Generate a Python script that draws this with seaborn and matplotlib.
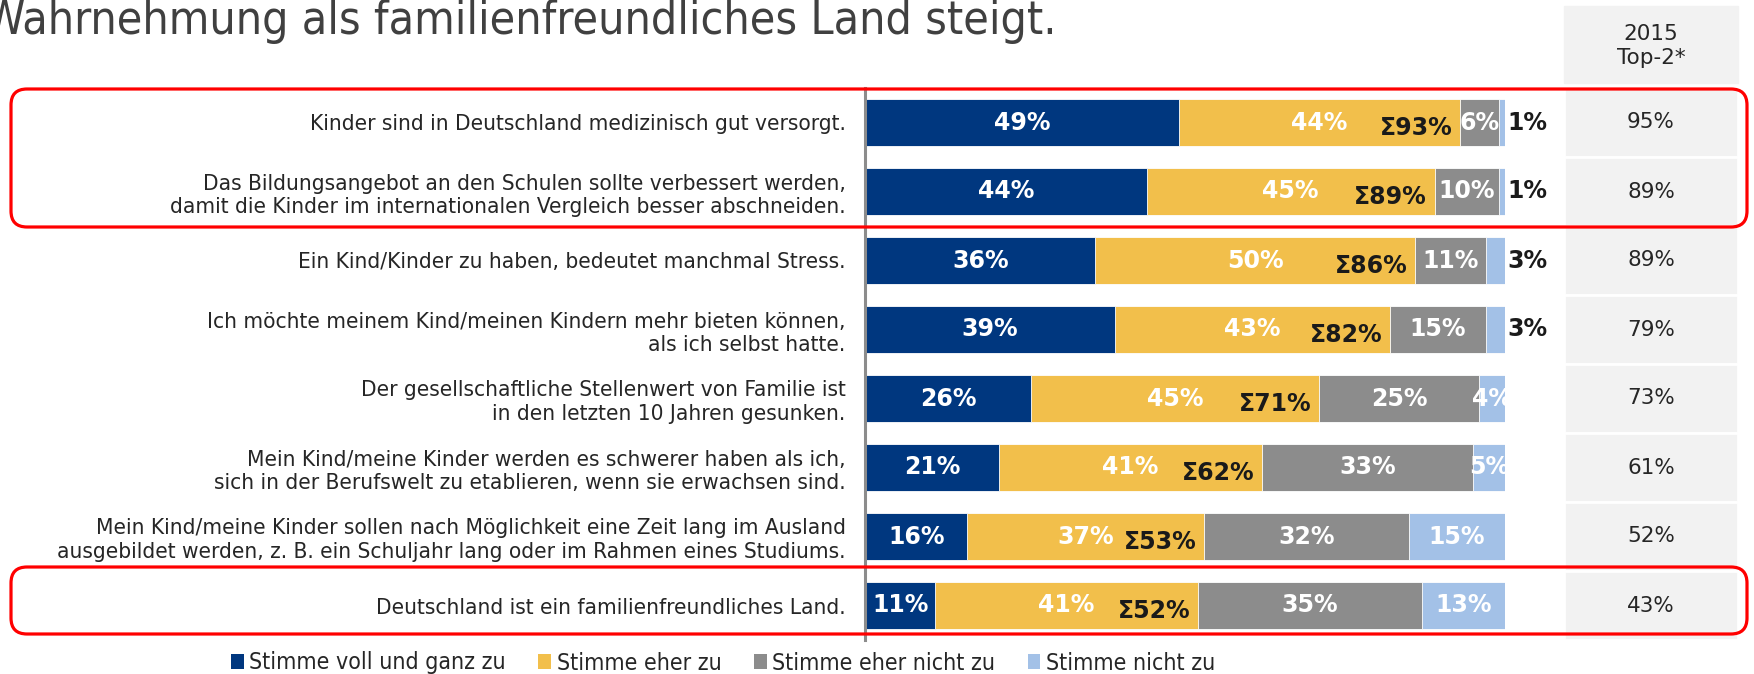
import numpy as np
import pandas as pd
import seaborn as sns

from matplotlib import pyplot as plt
from matplotlib import font_manager
from matplotlib.patches import Patch, Rectangle, FancyBboxPatch
from matplotlib.transforms import IdentityTransform


statements = [
    'Kinder sind in Deutschland medizinisch gut versorgt.',
    'Das Bildungsangebot an den Schulen sollte verbessert werden,\n'
    'damit die Kinder im internationalen Vergleich besser abschneiden.',
    'Ein Kind/Kinder zu haben, bedeutet manchmal Stress.',
    'Ich möchte meinem Kind/meinen Kindern mehr bieten können,\nals ich selbst hatte.',
    'Der gesellschaftliche Stellenwert von Familie ist\nin den letzten 10 Jahren gesunken.',
    'Mein Kind/meine Kinder werden es schwerer haben als ich,\n'
    'sich in der Berufswelt zu etablieren, wenn sie erwachsen sind.',
    'Mein Kind/meine Kinder sollen nach Möglichkeit eine Zeit lang im Ausland\n'
    'ausgebildet werden, z. B. ein Schuljahr lang oder im Rahmen eines Studiums.',
    'Deutschland ist ein familienfreundliches Land.',
]
voll = [49, 44, 36, 39, 26, 21, 16, 11]
eher = [44, 45, 50, 43, 45, 41, 37, 41]
eher_nicht = [6, 10, 11, 15, 25, 33, 32, 35]
nicht = [1, 1, 3, 3, 4, 5, 15, 13]
top2_2015 = [95, 89, 89, 79, 73, 61, 52, 43]

series_names = ['Stimme voll und ganz zu', 'Stimme eher zu', 'Stimme eher nicht zu', 'Stimme nicht zu']
colors = ['#00377F', '#F2BF4B', '#8C8C8C', '#A3C1E7']

title = 'Wahrnehmung als familienfreundliches Land steigt.'
header = '2015\nTop-2*'

W, H = 1754, 674


def narrow_font():
    fonts = font_manager.fontManager.ttflist
    if any(f.name == 'DejaVu Sans' and 'condensed' in f.stretch for f in fonts):
        return dict(family='DejaVu Sans', stretch='condensed')
    if any(f.name == 'Liberation Sans Narrow' for f in fonts):
        return dict(family='Liberation Sans Narrow')
    return dict(family='DejaVu Sans')


sns.set_style('white')
plt.rcParams['font.family'] = ['DejaVu Sans']
NARROW = narrow_font()

df = pd.DataFrame({'statement': statements, 'voll': voll, 'eher': eher,
                   'eher_nicht': eher_nicht, 'nicht': nicht})
parts = df[['voll', 'eher', 'eher_nicht', 'nicht']].to_numpy().T
cum = np.cumsum(parts, axis=0)

fig = plt.figure(figsize=(W / 100, H / 100), dpi=100)
ax = fig.add_axes([865 / W, 1 - 640 / H, 640 / W, 552 / H])

# stacked bars: draw cumulative totals from the back to the front
for k in range(3, -1, -1):
    sns.barplot(x=cum[k], y=df['statement'], orient='h', color=colors[k], saturation=1,
                width=0.67, edgecolor='white', linewidth=0.6, errorbar=None, ax=ax)

ax.set_xlim(0, 100)
ax.set_ylim(7.5, -0.5)
ax.set_xlabel('')
ax.set_ylabel('')
ax.set_xticks([])
for side in ['top', 'right', 'bottom']:
    ax.spines[side].set_visible(False)
ax.spines['left'].set_color('#8C8C8C')
ax.spines['left'].set_linewidth(2.2)
ax.set_yticks(range(len(statements)))
ax.set_yticklabels(statements, fontsize=16.2, color='#262626', **NARROW)
ax.set_yticks(np.arange(-0.5, len(statements), 1), minor=True)
ax.tick_params(axis='y', which='major', length=0, pad=14)
ax.tick_params(axis='y', which='minor', length=5, width=1.8, color='#8C8C8C', direction='out')

for i in range(len(statements)):
    start = 0
    for k in range(4):
        v = parts[k, i]
        if k == 3 and v <= 3:
            ax.text(100.3, i, f'{v}%', ha='left', va='center', fontsize=17,
                    fontweight='bold', color='#1A1A1A', clip_on=False)
        else:
            ax.text(start + v / 2, i, f'{v}%', ha='center', va='center', fontsize=17,
                    fontweight='bold', color='white', clip_on=True)
        start += v
    ax.text(cum[1, i] - 1.2, i + 0.08, f'Σ{cum[1, i]}%', ha='right', va='center',
            fontsize=17, fontweight='bold', color='#1A1A1A')

# 2015 column
ax2 = fig.add_axes([1564 / W, 1 - 640 / H, 174 / W, 552 / H])
ax2.barh(range(len(top2_2015)), [1] * len(top2_2015), height=1, left=0,
         color='#F2F2F2', edgecolor='white', linewidth=2)
ax2.set_xlim(0, 1)
ax2.set_ylim(7.5, -0.5)
ax2.axis('off')
for i, v in enumerate(top2_2015):
    ax2.text(0.5, i, f'{v}%', ha='center', va='center', fontsize=15.5, color='#262626')

fig.add_artist(Rectangle((1564, H - 83), 174, 77, color='#F2F2F2',
                         transform=IdentityTransform()))
fig.text(1651 / W, 1 - 46 / H, header, ha='center', va='center', fontsize=15.5,
         color='#262626', linespacing=1.3)

# red highlight frames
for top, bottom in [(89, 227), (567, 634)]:
    fig.add_artist(FancyBboxPatch((11, H - bottom), 1736, bottom - top,
                                  boxstyle='round,pad=0,rounding_size=16',
                                  fill=False, edgecolor='#FF0000', linewidth=2.3,
                                  transform=IdentityTransform(), zorder=10))

handles = [Patch(facecolor=c, edgecolor='none') for c in colors]
fig.legend(handles, series_names, loc='center left', bbox_to_anchor=(231 / W, 1 - 663 / H),
           ncol=4, frameon=False, handlelength=0.55, handleheight=0.6, handletextpad=0.25,
           columnspacing=1.4, borderpad=0, borderaxespad=0,
           prop=font_manager.FontProperties(size=16.6, **NARROW), labelcolor='#262626')

t = fig.text(1057 / W, 1 - 22 / H, title, ha='right', va='center', fontsize=36,
             color='#404040', **NARROW)
fig.canvas.draw()
width = t.get_window_extent().width
t.set_fontsize(t.get_fontsize() * 1075 / width)

fig.savefig('out.png', dpi=100)
